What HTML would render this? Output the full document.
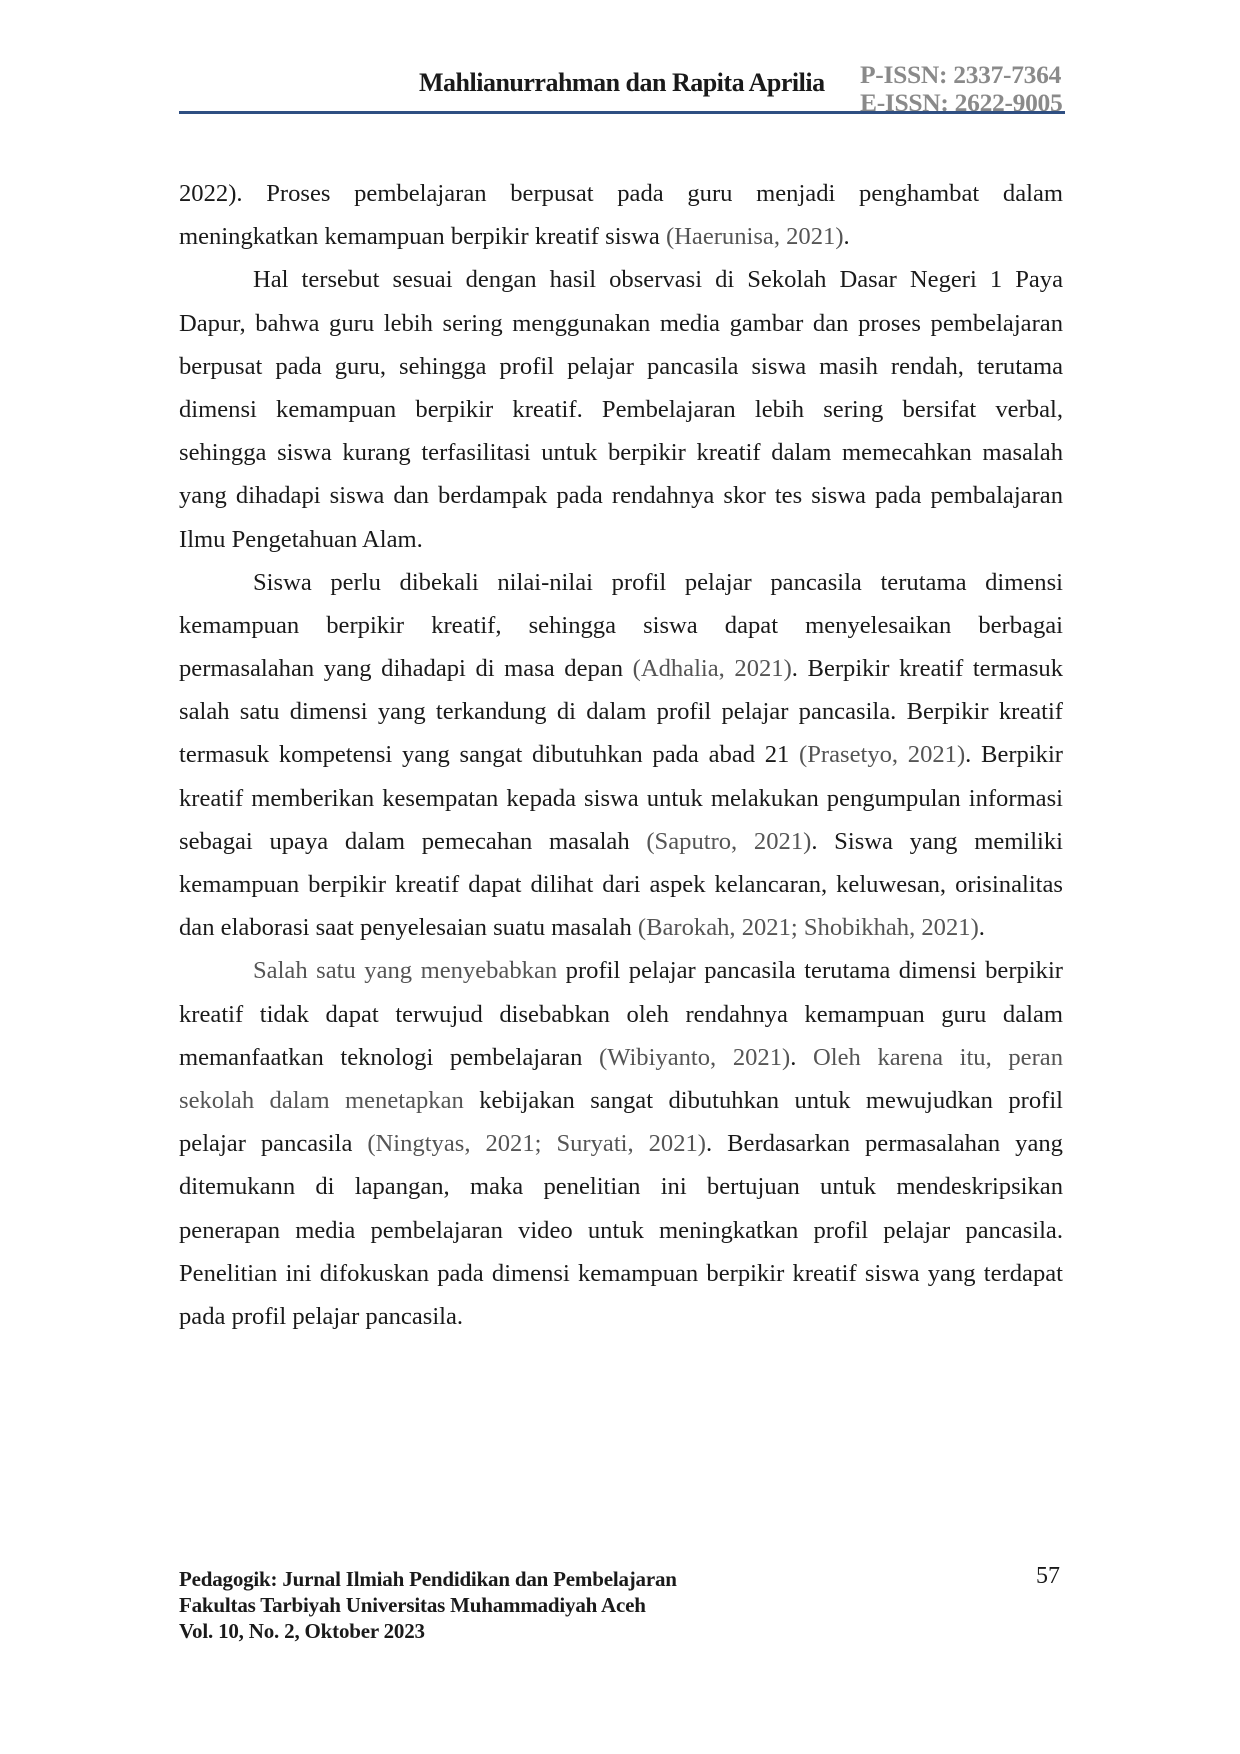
<!DOCTYPE html>
<html><head><meta charset="utf-8"><style>
html,body{margin:0;padding:0;background:#fff}
body{width:1240px;height:1754px;position:relative;overflow:hidden;font-family:"Liberation Serif",serif;color:#1a1a1a}
.hn{position:absolute;left:419px;top:68px;font-weight:bold;font-size:26px;letter-spacing:-0.5px;white-space:nowrap}
.is{position:absolute;left:860px;font-weight:bold;font-size:25.5px;color:#8a8a8a;letter-spacing:-0.3px;white-space:nowrap}
.rule{position:absolute;left:179px;top:111px;width:886px;height:3px;background:#2f4f82}
.body{position:absolute;left:179px;top:172px;width:884px;font-size:24.6px;line-height:43.2px}
.l{text-align:justify;text-align-last:justify;white-space:nowrap;height:43.2px}
.e{text-align:left;text-align-last:left}
.i{padding-left:74px}
.g{color:#555}
.ft{position:absolute;left:179px;top:1566px;font-weight:bold;font-size:21px;line-height:26px;letter-spacing:-0.2px}
.pn{position:absolute;left:1036px;top:1563px;font-size:24px}
</style></head><body>
<div class="hn">Mahlianurrahman dan Rapita Aprilia</div>
<div class="is" style="top:60px">P-ISSN: 2337-7364</div>
<div class="is" style="top:88px">E-ISSN: 2622-9005</div>
<div class="rule"></div>
<div class="body">
<div class="l">2022). Proses pembelajaran berpusat pada guru menjadi penghambat dalam</div>
<div class="l e">meningkatkan kemampuan berpikir kreatif siswa <span class="g">(Haerunisa, 2021)</span>.</div>
<div class="l i">Hal tersebut sesuai dengan hasil observasi di Sekolah Dasar Negeri 1 Paya</div>
<div class="l">Dapur, bahwa guru lebih sering menggunakan media gambar dan proses pembelajaran</div>
<div class="l">berpusat pada guru, sehingga profil pelajar pancasila siswa masih rendah, terutama</div>
<div class="l">dimensi kemampuan berpikir kreatif. Pembelajaran lebih sering bersifat verbal,</div>
<div class="l">sehingga siswa kurang terfasilitasi untuk berpikir kreatif dalam memecahkan masalah</div>
<div class="l">yang dihadapi siswa dan berdampak pada rendahnya skor tes siswa pada pembalajaran</div>
<div class="l e">Ilmu Pengetahuan Alam.</div>
<div class="l i">Siswa perlu dibekali nilai-nilai profil pelajar pancasila terutama dimensi</div>
<div class="l">kemampuan berpikir kreatif, sehingga siswa dapat menyelesaikan berbagai</div>
<div class="l">permasalahan yang dihadapi di masa depan <span class="g">(Adhalia, 2021)</span>. Berpikir kreatif termasuk</div>
<div class="l">salah satu dimensi yang terkandung di dalam profil pelajar pancasila. Berpikir kreatif</div>
<div class="l">termasuk kompetensi yang sangat dibutuhkan pada abad 21 <span class="g">(Prasetyo, 2021)</span>. Berpikir</div>
<div class="l">kreatif memberikan kesempatan kepada siswa untuk melakukan pengumpulan informasi</div>
<div class="l">sebagai upaya dalam pemecahan masalah <span class="g">(Saputro, 2021)</span>. Siswa yang memiliki</div>
<div class="l">kemampuan berpikir kreatif dapat dilihat dari aspek kelancaran, keluwesan, orisinalitas</div>
<div class="l e">dan elaborasi saat penyelesaian suatu masalah <span class="g">(Barokah, 2021; Shobikhah, 2021)</span>.</div>
<div class="l i"><span class="g">Salah satu yang menyebabkan</span> profil pelajar pancasila terutama dimensi berpikir</div>
<div class="l">kreatif tidak dapat terwujud disebabkan oleh rendahnya kemampuan guru dalam</div>
<div class="l">memanfaatkan teknologi pembelajaran <span class="g">(Wibiyanto, 2021)</span>. <span class="g">Oleh karena itu, peran</span></div>
<div class="l"><span class="g">sekolah dalam menetapkan</span> kebijakan sangat dibutuhkan untuk mewujudkan profil</div>
<div class="l">pelajar pancasila <span class="g">(Ningtyas, 2021; Suryati, 2021)</span>. Berdasarkan permasalahan yang</div>
<div class="l">ditemukann di lapangan, maka penelitian ini bertujuan untuk mendeskripsikan</div>
<div class="l">penerapan media pembelajaran video untuk meningkatkan profil pelajar pancasila.</div>
<div class="l">Penelitian ini difokuskan pada dimensi kemampuan berpikir kreatif siswa yang terdapat</div>
<div class="l e">pada profil pelajar pancasila.</div>
</div>
<div class="ft">Pedagogik: Jurnal Ilmiah Pendidikan dan Pembelajaran<br>Fakultas Tarbiyah Universitas Muhammadiyah Aceh<br>Vol. 10, No. 2, Oktober 2023</div>
<div class="pn">57</div>
</body></html>
